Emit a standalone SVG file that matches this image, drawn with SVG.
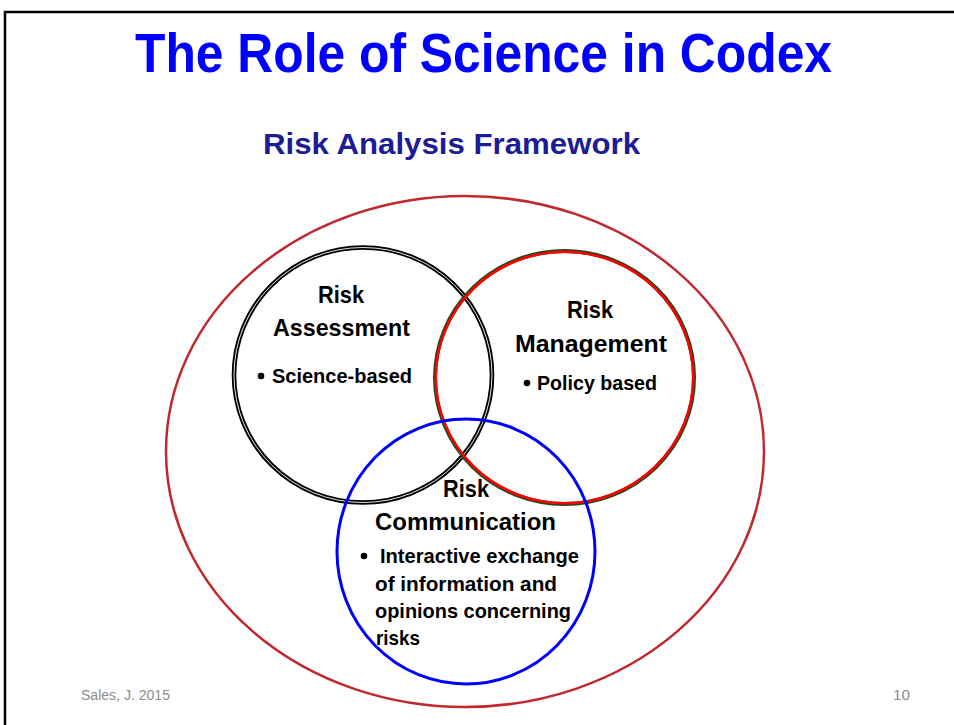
<svg xmlns="http://www.w3.org/2000/svg" width="954" height="725" viewBox="0 0 954 725">
<style>
.t{font-family:"Liberation Sans",Arial,sans-serif;font-weight:bold}
.title{font-size:55px;fill:#0000ff}
.sub{font-size:29px;fill:#1c1c96}
.h{font-size:24px;fill:#000}
.b{font-size:21px;fill:#000}
.foot{font-family:"Liberation Sans",Arial,sans-serif;font-size:14px;fill:#8c8c8c}
</style>
<rect x="0" y="0" width="954" height="725" fill="#fff"/>
<rect x="5" y="12" width="965" height="730" fill="none" stroke="#000" stroke-width="2.5"/>
<text class="t title" x="135" y="72" textLength="697" lengthAdjust="spacingAndGlyphs">The Role of Science in Codex</text>
<text class="t sub" x="263" y="154" textLength="377" lengthAdjust="spacingAndGlyphs">Risk Analysis Framework</text>
<g id="framework">
<ellipse cx="465" cy="451.5" rx="299" ry="255.5" fill="none" stroke="#c0282e" stroke-width="2.5"/>
</g>
<g id="assessment">
<ellipse cx="363" cy="375" rx="129" ry="127.5" fill="none" stroke="#000" stroke-width="4.6"/>
<ellipse cx="363" cy="375" rx="129" ry="127.5" fill="none" stroke="#fff" stroke-width="0.9"/>
<text class="t h" x="341" y="303" text-anchor="middle" textLength="46" lengthAdjust="spacingAndGlyphs">Risk</text>
<text class="t h" x="273" y="336" textLength="137" lengthAdjust="spacingAndGlyphs">Assessment</text>
<circle cx="261" cy="376" r="3.3" fill="#000"/>
<text class="t b" x="272" y="383" textLength="140" lengthAdjust="spacingAndGlyphs">Science-based</text>
</g>
<g id="management">
<ellipse cx="564.5" cy="377.5" rx="129.5" ry="126.5" fill="none" stroke="#1e4a1e" stroke-width="4"/>
<ellipse cx="564.5" cy="377.5" rx="128.8" ry="125.8" fill="none" stroke="#ff0000" stroke-width="2.6"/>
<text class="t h" x="590" y="318" text-anchor="middle" textLength="46" lengthAdjust="spacingAndGlyphs">Risk</text>
<text class="t h" x="515" y="352" textLength="152" lengthAdjust="spacingAndGlyphs">Management</text>
<circle cx="527" cy="383" r="3.3" fill="#000"/>
<text class="t b" x="537" y="390" textLength="120" lengthAdjust="spacingAndGlyphs">Policy based</text>
</g>
<g id="communication">
<ellipse cx="466" cy="551.5" rx="129" ry="132.5" fill="none" stroke="#0000ff" stroke-width="3"/>
<text class="t h" x="466" y="497" text-anchor="middle" textLength="46" lengthAdjust="spacingAndGlyphs">Risk</text>
<text class="t h" x="375" y="530" textLength="181" lengthAdjust="spacingAndGlyphs">Communication</text>
<circle cx="364" cy="556" r="3.3" fill="#000"/>
<text class="t b" x="380" y="563" textLength="199" lengthAdjust="spacingAndGlyphs">Interactive exchange</text>
<text class="t b" x="375" y="591" textLength="182" lengthAdjust="spacingAndGlyphs">of information and</text>
<text class="t b" x="375" y="618" textLength="196" lengthAdjust="spacingAndGlyphs">opinions concerning</text>
<text class="t b" x="376" y="645" textLength="44" lengthAdjust="spacingAndGlyphs">risks</text>
</g>
<g id="connectors"/>
<text class="foot" x="81" y="700" textLength="89" lengthAdjust="spacingAndGlyphs">Sales, J. 2015</text>
<text class="foot" x="893" y="700" textLength="17" lengthAdjust="spacingAndGlyphs">10</text>
</svg>
